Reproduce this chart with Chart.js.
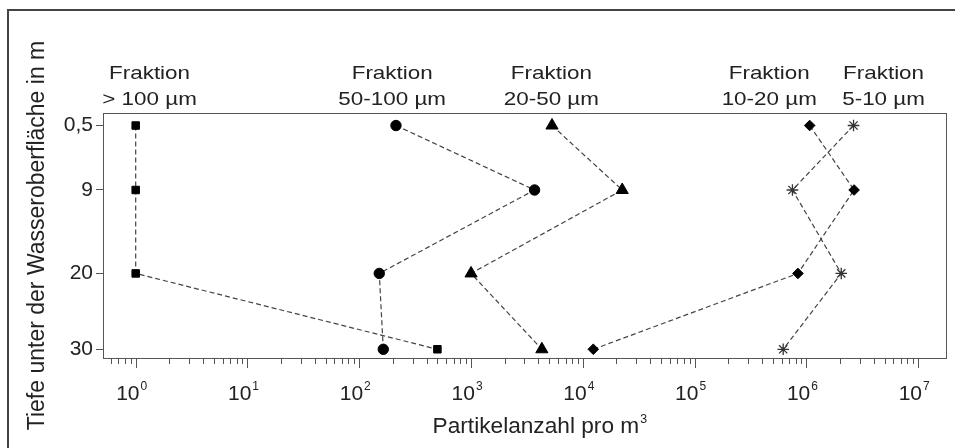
<!DOCTYPE html>
<html><head><meta charset="utf-8">
<script src="https://cdn.jsdelivr.net/npm/chart.js@4/dist/chart.umd.min.js"></script>
<style>html,body{margin:0;padding:0;background:#fff;}#wrap{width:955px;height:448px;}</style>
</head><body><div id="wrap"><canvas id="c" width="955" height="448"></canvas></div>
<script>
// ---- data ----
const depths = [0.5, 9, 20, 30];
const depthLabels = ['0,5', '9', '20', '30'];
const frac100 = [1, 1, 1, 500];
const frac50_100 = [213, 3700, 151, 164];
const frac20_50 = [5300, 22500, 1000, 4300];
const frac10_20 = [1.07e6, 2.67e6, 8.4e5, 1.24e4];
const frac5_10 = [2.64e6, 7.5e5, 2.05e6, 6.2e5];
const fracLine1 = ['Fraktion', 'Fraktion', 'Fraktion', 'Fraktion', 'Fraktion'];
const fracLine2 = ['> 100 µm', '50-100 µm', '20-50 µm', '10-20 µm', '5-10 µm'];
const fracLabelAt = [1.33, 197, 5230, 4.65e5, 4.9e6];
const xExponents = [0, 1, 2, 3, 4, 5, 6, 7];
const xTitle = 'Partikelanzahl pro m';
const xTitleSup = '3';
const yTitle = 'Tiefe unter der Wasseroberfläche in m';

const FONT = 'Arial, "Liberation Sans", sans-serif';
const TXT = '#222';
const pts = vals => vals.map((v, i) => ({x: v, y: depths[i]}));
const mk = (label, vals, style, r, extra) => Object.assign({
  label, data: pts(vals), showLine: true,
  borderColor: '#444', borderWidth: 1.2, borderDash: [5, 3],
  pointStyle: style, pointRadius: r, pointHoverRadius: r,
  pointBackgroundColor: '#000', pointBorderColor: '#000', pointBorderWidth: 1
}, extra || {});

const deco = {
  id: 'deco',
  beforeDraw(chart) {
    const ctx = chart.ctx;
    ctx.save();
    ctx.fillStyle = '#fff';
    ctx.fillRect(0, 0, chart.width, chart.height);
    ctx.strokeStyle = '#444';
    ctx.lineWidth = 2;
    ctx.strokeRect(8, 10, 970, 470);
    ctx.restore();
  },
  afterDraw(chart) {
    const ctx = chart.ctx, a = chart.chartArea, xs = chart.scales.x;
    ctx.save();
    // plot box
    ctx.strokeStyle = '#555';
    ctx.lineWidth = 1;
    ctx.strokeRect(a.left + 0.5, a.top + 0.5, a.right - a.left - 1, a.bottom - a.top);
    // x ticks (major & minor)
    ctx.beginPath();
    for (let e = -1; e <= 7; e++) {
      for (let m = 1; m <= 9; m++) {
        const v = m * Math.pow(10, e);
        if (v < xs.min || v > xs.max) continue;
        const px = Math.round(xs.getPixelForValue(v)) + 0.5;
        const len = m === 1 ? 10 : 6;
        ctx.moveTo(px, a.bottom);
        ctx.lineTo(px, a.bottom + len);
      }
    }
    ctx.stroke();
    // x tick labels
    ctx.fillStyle = TXT;
    xExponents.forEach(e => {
      const px = xs.getPixelForValue(Math.pow(10, e));
      ctx.font = '21px ' + FONT;
      const w1 = ctx.measureText('10').width;
      ctx.font = '12px ' + FONT;
      const w2 = ctx.measureText(String(e)).width;
      const x0 = px - 4 - (w1 + w2 + 1) / 2;
      ctx.textAlign = 'left';
      ctx.textBaseline = 'alphabetic';
      ctx.font = '21px ' + FONT;
      ctx.fillText('10', x0, 400);
      ctx.font = '12px ' + FONT;
      ctx.fillText(String(e), x0 + w1 + 1, 390);
    });
    // x title
    ctx.font = '22px ' + FONT;
    const tw = ctx.measureText(xTitle).width;
    ctx.save();
    ctx.translate(540, 433);
    ctx.scale(1.03, 1);
    ctx.textAlign = 'left';
    ctx.fillText(xTitle, -(tw + 8) / 2, 0);
    ctx.font = '12px ' + FONT;
    ctx.fillText(xTitleSup, -(tw + 8) / 2 + tw + 1, -10);
    ctx.restore();
    // fraction labels
    fracLabelAt.forEach((v, i) => {
      const px = xs.getPixelForValue(v);
      ctx.save();
      ctx.translate(px, 0);
      ctx.scale(1.18, 1);
      ctx.font = '19px ' + FONT;
      ctx.textAlign = 'center';
      ctx.fillStyle = TXT;
      ctx.fillText(fracLine1[i], 0, 79);
      ctx.fillText(fracLine2[i], 0, 105);
      ctx.restore();
    });
    ctx.restore();
  }
};

new Chart(document.getElementById('c'), {
  type: 'scatter',
  data: {
    datasets: [
      mk(fracLine2[0], frac100, 'rect', 5.3),
      mk(fracLine2[1], frac50_100, 'circle', 5.2),
      mk(fracLine2[2], frac20_50, 'triangle', 7),
      mk(fracLine2[3], frac10_20, 'rectRot', 5.3),
      mk(fracLine2[4], frac5_10, 'star', 5.8, {pointBorderColor: '#333', pointBorderWidth: 1.3})
    ]
  },
  options: {
    responsive: false,
    animation: false,
    devicePixelRatio: 1,
    layout: {padding: {top: 113, right: 3, left: 0, bottom: 0}},
    plugins: {legend: {display: false}, tooltip: {enabled: false}},
    scales: {
      x: {
        type: 'logarithmic', position: 'bottom', min: 0.51, max: 1.81e7,
        grid: {display: false}, border: {display: false},
        ticks: {display: false},
        afterFit: s => { s.height = 90; }
      },
      y: {
        type: 'linear', position: 'left', reverse: true, min: -1.15, max: 31.15,
        afterBuildTicks: s => { s.ticks = depths.map(v => ({value: v})); },
        ticks: {
          callback: (v, i) => depthLabels[i],
          font: {size: 21, family: FONT}, color: TXT, padding: 3, autoSkip: false
        },
        grid: {drawOnChartArea: false, drawTicks: true, tickLength: 7, tickColor: '#555'},
        border: {display: false},
        title: {display: true, text: yTitle, font: {size: 23, family: FONT}, color: TXT, padding: {top: 24, bottom: 0}},
        afterFit: s => { s.width = 103; }
      }
    }
  },
  plugins: [deco]
});
</script>
</body></html>
